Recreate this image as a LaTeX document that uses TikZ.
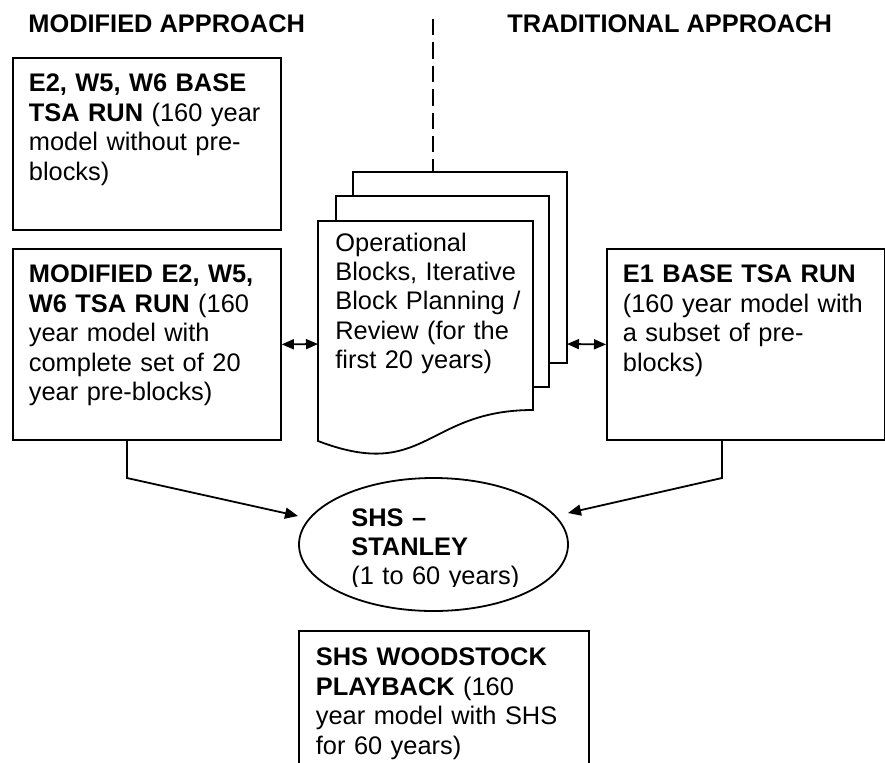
\documentclass[tikz,border=0pt]{standalone}
\usepackage{fontspec}
\setmainfont{Liberation Sans}
\usepackage{tikz}
\usetikzlibrary{arrows.meta,shapes.geometric}

\newcommand{\runfont}{\fontsize{12.7pt}{14.7pt}\selectfont}
\tikzset{
  runbox/.style={draw, line width=0.9pt, anchor=north west, inner xsep=8pt,
    inner ysep=0pt, text height=17pt, align=left, font=\runfont},
  plaintext/.style={inner sep=0pt, anchor=base west, align=left, font=\runfont},
  arr/.style={line width=0.9pt, -{Triangle[length=6.5pt,width=5.5pt]}},
  dblarr/.style={line width=0.9pt, {Triangle[length=6pt,width=5pt]}-{Triangle[length=6pt,width=5pt]}}
}

\begin{document}
\begin{tikzpicture}[x=0.5pt,y=0.5pt,yscale=-1]
\useasboundingbox (0,0) rectangle (885,762);

% headings
\node[plaintext] (modhead) at (28,32) {\textbf{MODIFIED APPROACH}};
\node[plaintext] (tradhead) at (507,32) {\textbf{TRADITIONAL APPROACH}};

% left column
\node[runbox, text width=118pt, text depth=69pt] (base) at (12,57)
  {\textbf{E2, W5, W6 BASE}\\ \textbf{TSA RUN} (160 year\\ model without pre-\\ blocks)};
\node[runbox, text width=118pt, text depth=78.5pt] (modrun) at (12,248)
  {\textbf{MODIFIED E2, W5,}\\ \textbf{W6 TSA RUN} (160\\ year model with\\ complete set of 20\\ year pre-blocks)};

% right column
\node[runbox, text width=123pt, text depth=78.5pt] (e1run) at (606,248)
  {\textbf{E1 BASE TSA RUN}\\ (160 year model with\\ a subset of pre-\\ blocks)};

% stacked documents
\coordinate (divtop) at (433,19);
\coordinate (backtop) at (433,172);
\coordinate (docL) at (318,344);
\coordinate (docR) at (567,344);
\draw[line width=0.9pt] (353,196) -- (353,172) -- (567,172) -- (567,363) -- (549,363);
\draw[line width=0.9pt] (336,221) -- (336,196) -- (549,196) -- (549,387) -- (533,387);
\draw[line width=0.9pt] (318,221) -- (533,221) -- (533,410)
  .. controls (425.5,410) and (425.5,482) .. (318,441) -- cycle;
\node[plaintext, text width=110pt] (docs) at (335,251)
  {Operational\\ Blocks, Iterative\\ Block Planning /\\ Review (for the\\ first 20 years)};

% divider
\draw[line width=0.9pt, dash pattern=on 8.2pt off 3.5pt] (divtop) -- (backtop);

% SHS - Stanley
\node[draw, line width=0.9pt, ellipse, minimum width=134.5pt, minimum height=66.5pt, inner sep=0pt] (shs) at (433.5,544.5) {};
\begin{scope}
  \clip (299,478) rectangle (568,586);
  \node[plaintext, text width=100pt] (shstext) at (351,526)
    {\textbf{SHS –}\\ \textbf{STANLEY}\\ (1 to 60 years)};
\end{scope}

% playback, open at the bottom
\node[runbox, draw=none, text width=128pt, text depth=48.5pt] (play) at (299,631)
  {\textbf{SHS WOODSTOCK}\\ \textbf{PLAYBACK} (160\\ year model with SHS\\ for 60 years)};
\draw[line width=0.9pt] (play.south west) |- (play.north east) -- (play.south east);

% connectors
\draw[dblarr] (modrun.east) -- (docL);
\draw[dblarr] (docR) -- (e1run.west);

\coordinate (lknee) at (127,478);
\coordinate (ltip) at (298,516);
\coordinate (rknee) at (722,478);
\coordinate (rtip) at (568,513);
\draw[arr] (modrun.south -| lknee) -- (lknee) -- (ltip);
\draw[arr] (e1run.south -| rknee) -- (rknee) -- (rtip);

\end{tikzpicture}
\end{document}
